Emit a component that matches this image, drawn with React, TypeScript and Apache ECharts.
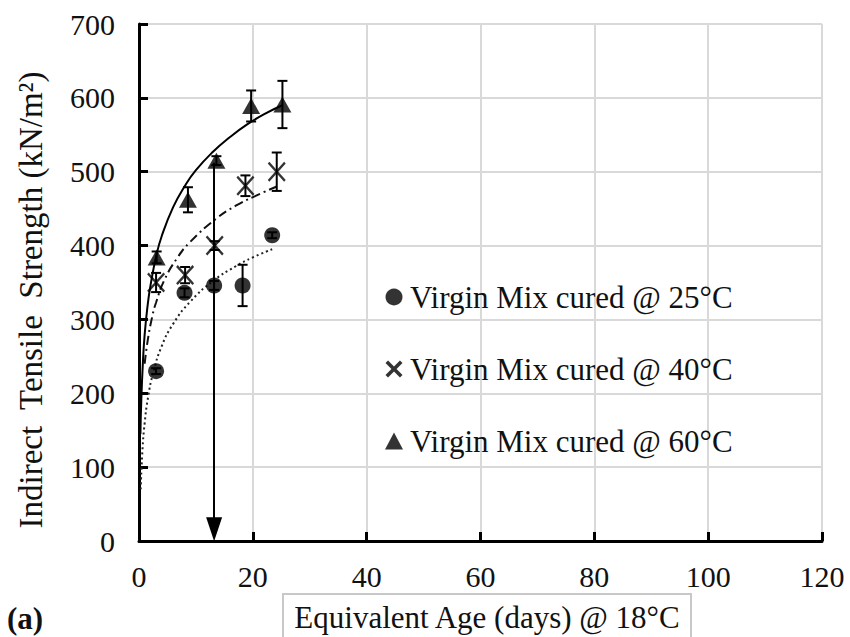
import React, { useEffect, useRef } from "react";
import * as echarts from "echarts";

const FONT = "'Liberation Serif', 'Times New Roman', Times, serif";

// Measured points (Equivalent age in days @ 18°C, ITS in kN/m2)
const age25 = [3.0, 8.0, 13.2, 18.2, 23.4];
const its25 = [230, 336, 346, 346, 414];
const err25 = [4, 6, 6, 28, 4];

const age40 = [3.0, 8.1, 13.3, 18.7, 24.2];
const its40 = [350, 360, 400, 481, 500];
const err40 = [13, 11, 6, 14, 26];

const age60 = [3.1, 8.6, 13.6, 19.7, 25.2];
const its60 = [384, 462, 515, 589, 591];
const err60 = [8, 17, 6, 21, 32];

// Trend lines
const trend25X = [0.3, 0.6, 1, 1.6, 2.5, 4, 6, 9, 13, 17, 20, 23.4];
const trend25Y = [70, 122, 160, 195, 228, 264, 294, 324, 352, 372, 384, 395];

const trend40X = [1.0, 1.5, 2.3, 3, 4.5, 6.7, 9, 13.5, 17, 20.4, 24.2];
const trend40Y = [240, 270, 303, 323, 354, 383, 405, 436, 454, 467, 480];

const trend60X = [0.25, 0.4, 0.7, 1, 1.5, 2, 3, 4, 6, 8, 10, 13, 16, 19, 22, 25.2];
const trend60Y = [145, 190, 244, 280, 318, 345, 385, 413, 452, 480, 502, 527, 547, 564, 578, 590];

// Arrow marking the equivalent age
const arrowX = 13.2;
const arrowTop = 512;

const names = [
  "Virgin Mix cured @ 25°C",
  "Virgin Mix cured @ 40°C",
  "Virgin Mix cured @ 60°C",
];

const X_PATH =
  "path://M0,1.8 L1.8,0 L10,8.2 L18.2,0 L20,1.8 L11.8,10 L20,18.2 L18.2,20 L10,11.8 L1.8,20 L0,18.2 L8.2,10 Z";
const X_ICON =
  "path://M0,3 L3,0 L10,7 L17,0 L20,3 L13,10 L20,17 L17,20 L10,13 L3,20 L0,17 L7,10 Z";

const zip = (xs: number[], ys: number[]) => xs.map((x, i) => [x, ys[i]]);
const errData = (xs: number[], ys: number[], es: number[]) =>
  xs.map((x, i) => [x, ys[i] - es[i], ys[i] + es[i]]);

function errorSeries(data: number[][]) {
  return {
    type: "custom",
    silent: true,
    z: 3,
    data,
    renderItem: (params: any, api: any) => {
      const x = api.value(0);
      const lo = api.coord([x, api.value(1)]);
      const hi = api.coord([x, api.value(2)]);
      const cap = 5;
      const style = { stroke: "#000", lineWidth: 2 };
      return {
        type: "group",
        children: [
          { type: "line", shape: { x1: lo[0], y1: lo[1], x2: hi[0], y2: hi[1] }, style },
          { type: "line", shape: { x1: lo[0] - cap, y1: lo[1], x2: lo[0] + cap, y2: lo[1] }, style },
          { type: "line", shape: { x1: hi[0] - cap, y1: hi[1], x2: hi[0] + cap, y2: hi[1] }, style },
        ],
      };
    },
  };
}

export default function App() {
  const ref = useRef<HTMLDivElement>(null);
  useEffect(() => {
    if (!ref.current) return;
    const chart = echarts.init(ref.current, undefined, { renderer: "svg" });
    const axisLabel = { color: "#111", fontFamily: FONT, fontSize: 30 };
    chart.setOption({
      animation: false,
      backgroundColor: "#fff",
      grid: { left: 139, right: 28, top: 24, bottom: 96, containLabel: false },
      xAxis: {
        type: "value",
        min: 0,
        max: 120,
        interval: 20,
        axisLine: { show: true, lineStyle: { color: "#000", width: 3 } },
        axisTick: { show: true, inside: true, length: 9, lineStyle: { color: "#000", width: 3 } },
        axisLabel: { ...axisLabel, margin: 20 },
        splitLine: { show: true, lineStyle: { color: "#d9d9d9", width: 2 } },
      },
      yAxis: {
        type: "value",
        min: 0,
        max: 700,
        interval: 100,
        axisLine: { show: true, lineStyle: { color: "#000", width: 3 } },
        axisTick: { show: true, inside: true, length: 9, lineStyle: { color: "#000", width: 3 } },
        axisLabel: { ...axisLabel, margin: 24 },
        splitLine: { show: true, lineStyle: { color: "#d9d9d9", width: 2 } },
      },
      legend: {
        data: [
          { name: names[0], icon: "circle" },
          { name: names[1], icon: X_ICON },
          { name: names[2], icon: "triangle" },
        ],
        orient: "vertical",
        left: 380,
        top: 276,
        itemWidth: 18,
        itemHeight: 17,
        itemGap: 40,
        selectedMode: false,
        textStyle: { color: "#111", fontFamily: FONT, fontSize: 31, lineHeight: 32, padding: [0, 0, 0, 2] },
      },
      graphic: [
        {
          type: "text",
          x: 31,
          y: 300,
          rotation: Math.PI / 2,
          style: {
            text: "Indirect  Tensile  Strength (kN/m²)",
            fontFamily: FONT,
            fontSize: 33,
            fill: "#111",
            align: "center",
            verticalAlign: "middle",
          },
        },
        {
          type: "rect",
          shape: { x: 283, y: 594, width: 408, height: 60 },
          style: { fill: "#fff", stroke: "#c8c8c8", lineWidth: 2 },
        },
        {
          type: "text",
          x: 487,
          y: 617,
          style: {
            text: "Equivalent Age (days) @ 18°C",
            fontFamily: FONT,
            fontSize: 31,
            fill: "#111",
            align: "center",
            verticalAlign: "middle",
          },
        },
        {
          type: "text",
          x: 7,
          y: 618,
          style: {
            text: "(a)",
            fontFamily: FONT,
            fontSize: 31,
            fontWeight: "bold",
            fill: "#111",
            align: "left",
            verticalAlign: "middle",
          },
        },
      ],
      series: [
        {
          type: "line",
          data: zip(trend25X, trend25Y),
          smooth: true,
          symbol: "none",
          silent: true,
          lineStyle: { color: "#222", width: 2, type: [2, 3] },
          z: 2,
        },
        {
          type: "line",
          data: zip(trend40X, trend40Y),
          smooth: true,
          symbol: "none",
          silent: true,
          lineStyle: { color: "#111", width: 2, type: [9, 4, 2, 4] },
          z: 2,
        },
        {
          type: "line",
          data: zip(trend60X, trend60Y),
          smooth: true,
          symbol: "none",
          silent: true,
          lineStyle: { color: "#000", width: 2, type: "solid" },
          z: 2,
          markLine: {
            silent: true,
            symbol: ["none", "triangle"],
            symbolSize: [16, 24],
            label: { show: false },
            lineStyle: { color: "#000", width: 2, type: "solid" },
            data: [[{ coord: [arrowX, arrowTop] }, { coord: [arrowX, 16] }]],
          },
        },
        errorSeries(errData(age25, its25, err25)),
        errorSeries(errData(age40, its40, err40)),
        errorSeries(errData(age60, its60, err60)),
        {
          name: names[0],
          type: "scatter",
          data: zip(age25, its25),
          symbol: "circle",
          symbolSize: 16,
          itemStyle: { color: "#000" },
          z: 4,
        },
        {
          name: names[1],
          type: "scatter",
          data: zip(age40, its40),
          symbol: X_PATH,
          symbolSize: [18, 20],
          itemStyle: { color: "#000" },
          z: 4,
        },
        {
          name: names[2],
          type: "scatter",
          data: zip(age60, its60),
          symbol: "triangle",
          symbolSize: [18, 16],
          itemStyle: { color: "#000" },
          z: 4,
        },
      ],
    });
    return () => chart.dispose();
  }, []);
  return (
    <div
      ref={ref}
      style={{ position: "absolute", left: 0, top: 0, width: 850, height: 637 }}
    />
  );
}
